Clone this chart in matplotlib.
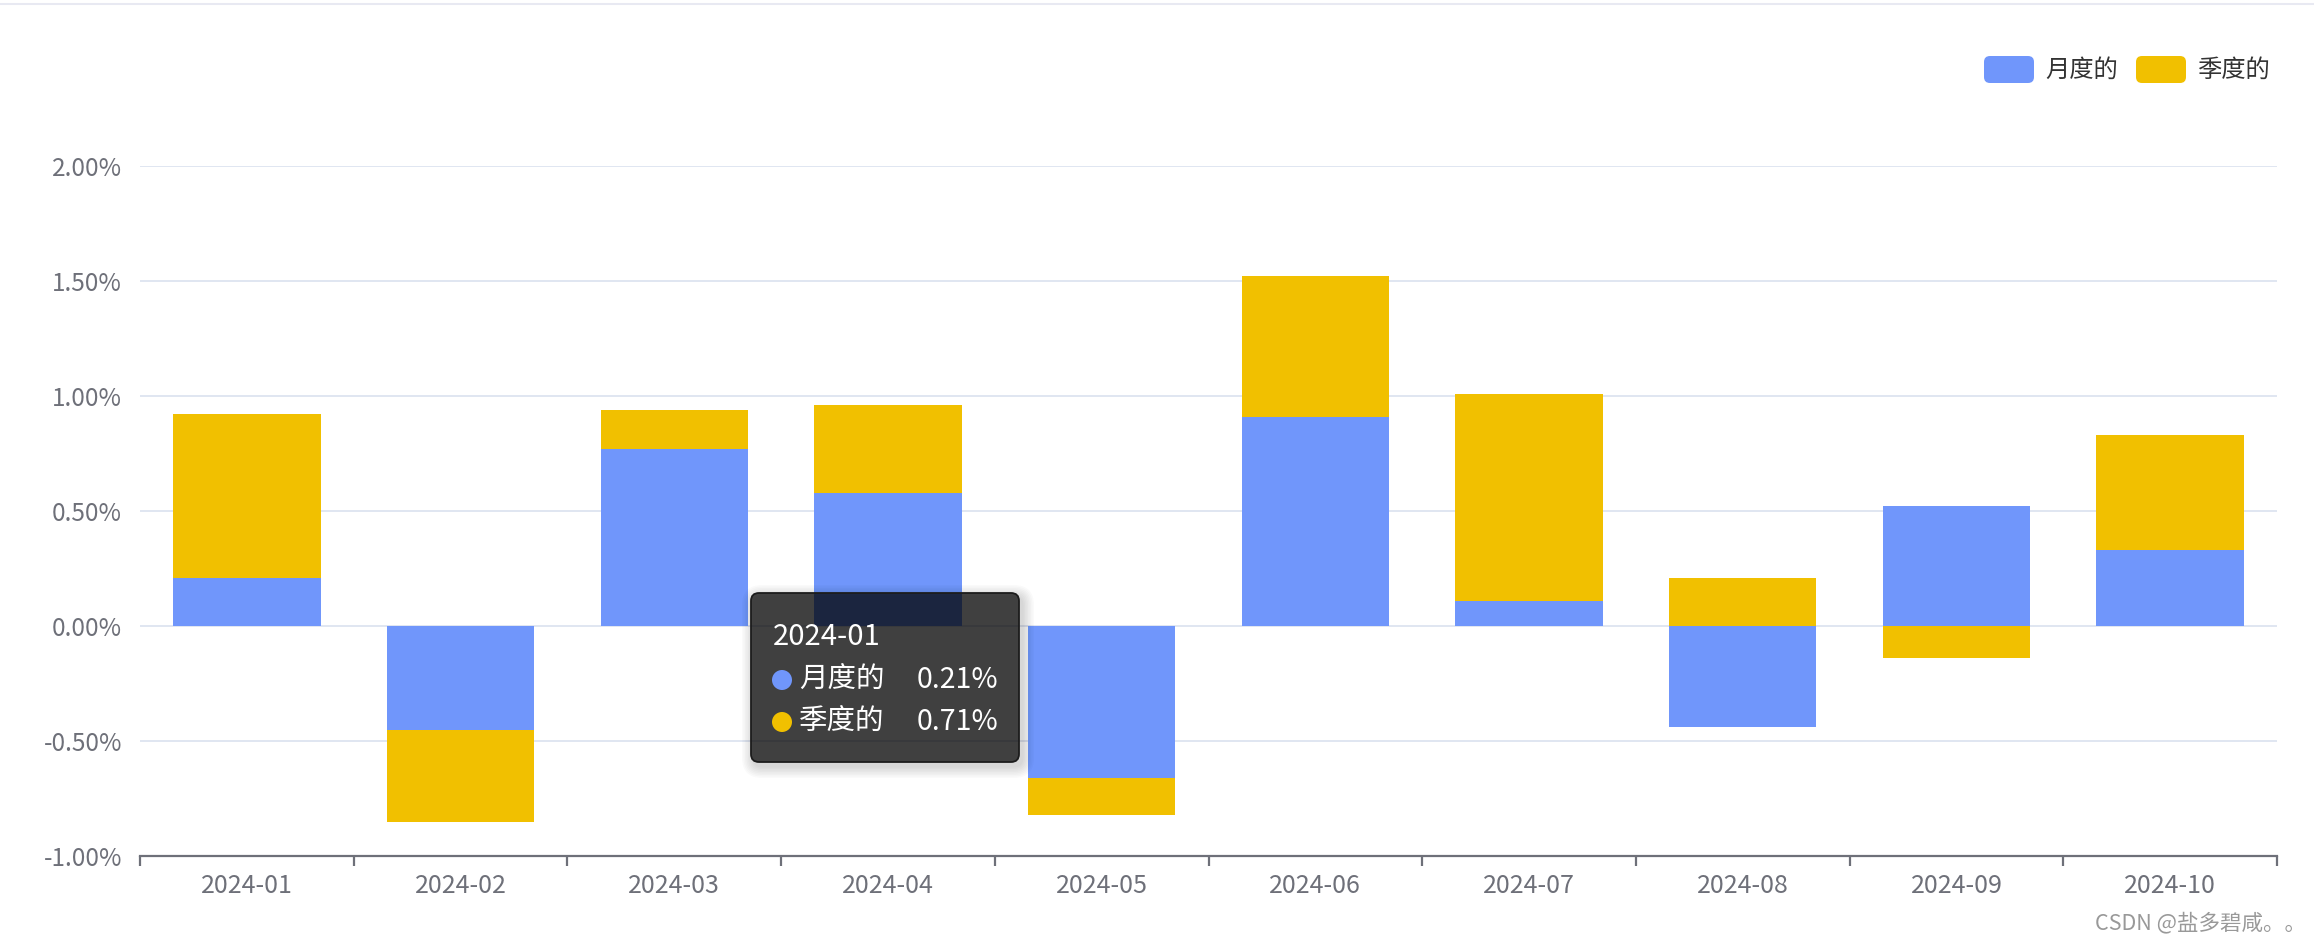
import numpy as np
import matplotlib
matplotlib.use("Agg")
import matplotlib.pyplot as plt
from matplotlib.patches import FancyBboxPatch, Circle
from matplotlib import transforms
from matplotlib.lines import Line2D

plt.rcParams['font.family'] = ['Noto Sans CJK SC', 'DejaVu Sans']

categories = ['2024-01', '2024-02', '2024-03', '2024-04', '2024-05',
              '2024-06', '2024-07', '2024-08', '2024-09', '2024-10']
monthly = [0.21, -0.45, 0.77, 0.58, -0.66, 0.91, 0.11, -0.44, 0.52, 0.33]
quarterly = [0.71, -0.40, 0.17, 0.38, -0.16, 0.61, 0.90, 0.21, -0.14, 0.50]
series_names = ['月度的', '季度的']
y_ticks = [-1.0, -0.5, 0.0, 0.5, 1.0, 1.5, 2.0]

BLUE = '#7096fb'
YELLOW = '#f1c000'
GRID = '#e0e6f1'
AXIS = '#6e7079'

W, H, DPI = 2314, 943, 100
fig = plt.figure(figsize=(W / DPI, H / DPI), dpi=DPI)
fig.patch.set_facecolor('white')

# pixel transform (origin top-left)
pix = transforms.Affine2D().scale(1.0 / DPI).scale(1, -1).translate(0, H / DPI) + fig.dpi_scale_trans

ax = fig.add_axes([140 / W, (H - 856) / H, 2137 / W, 690 / H])
x = np.arange(len(categories))
m = np.array(monthly)
q = np.array(quarterly)
q_bottom = np.where(np.sign(q) == np.sign(m), m, 0.0)

ax.bar(x, m, width=0.69, color=BLUE, zorder=3)
ax.bar(x, q, width=0.69, bottom=q_bottom, color=YELLOW, zorder=3)

ax.set_xlim(-0.5, len(categories) - 0.5)
ax.set_ylim(-1.0, 2.0)
ax.set_yticks(y_ticks)
ax.set_yticklabels([f'{v:.2f}%' for v in y_ticks])
ax.set_xticks(x)
ax.set_xticklabels(categories)
ax.set_xticks(np.arange(-0.5, len(categories)), minor=True)

for s in ['top', 'right', 'left']:
    ax.spines[s].set_visible(False)
ax.spines['bottom'].set_color(AXIS)
ax.spines['bottom'].set_linewidth(1.6)
ax.spines['bottom'].set_zorder(4)

ax.yaxis.grid(True, color=GRID, linewidth=1.4, zorder=0)
ax.set_axisbelow(True)
ax.tick_params(axis='y', length=0, pad=13, labelsize=17.5, labelcolor=AXIS)
ax.tick_params(axis='x', which='major', length=0, pad=12, labelsize=18, labelcolor=AXIS)
ax.tick_params(axis='x', which='minor', length=7, width=1.6, color=AXIS)

# top thin line
fig.add_artist(Line2D([0, W], [4, 4], transform=pix, color='#e8e9f2', linewidth=1.5))

# legend
legend_items = [(1984, series_names[0], BLUE), (2136, series_names[1], YELLOW)]
for lx, name, col in legend_items:
    fig.add_artist(FancyBboxPatch((lx, 56), 50, 27, boxstyle='round,pad=0,rounding_size=6',
                                  transform=pix, facecolor=col, edgecolor='none'))
    fig.text(lx + 61, 69.5, name, transform=pix, fontsize=17.5, color='#333333',
             va='center', ha='left')

# tooltip shadow
for i in range(8, 0, -1):
    fig.add_artist(FancyBboxPatch((751 - i * 1.5 + 3, 593 - i * 1.5 + 4), 268 + i * 3, 169 + i * 3,
                                  boxstyle='round,pad=0,rounding_size=%g' % (8 + i * 1.5),
                                  transform=pix, facecolor='black', edgecolor='none',
                                  alpha=0.018, zorder=9))
fig.add_artist(FancyBboxPatch((751, 593), 268, 169, boxstyle='round,pad=0,rounding_size=8',
                              transform=pix, facecolor=(0, 0, 0, 0.7), edgecolor='#1c1c1c',
                              linewidth=1.3, zorder=10))
fig.text(773, 637, categories[0], transform=pix, fontsize=21, color='white',
         va='center', ha='left', zorder=11)
for row_y, name, val, col in [(680, series_names[0], monthly[0], BLUE),
                              (722, series_names[1], quarterly[0], YELLOW)]:
    fig.add_artist(Circle((782, row_y), 10, transform=pix, facecolor=col,
                          edgecolor='none', zorder=11))
    fig.text(799, row_y, name, transform=pix, fontsize=20.5, color='white',
             va='center', ha='left', zorder=11)
    fig.text(998, row_y, f'{val:.2f}%', transform=pix, fontsize=20.5, color='white',
             va='center', ha='right', zorder=11)

# watermark
fig.text(2306, 923, 'CSDN @盐多碧咸。。', transform=pix, fontsize=15.5, color='#999999',
         va='center', ha='right')

fig.savefig('out.png', dpi=DPI, facecolor='white')
